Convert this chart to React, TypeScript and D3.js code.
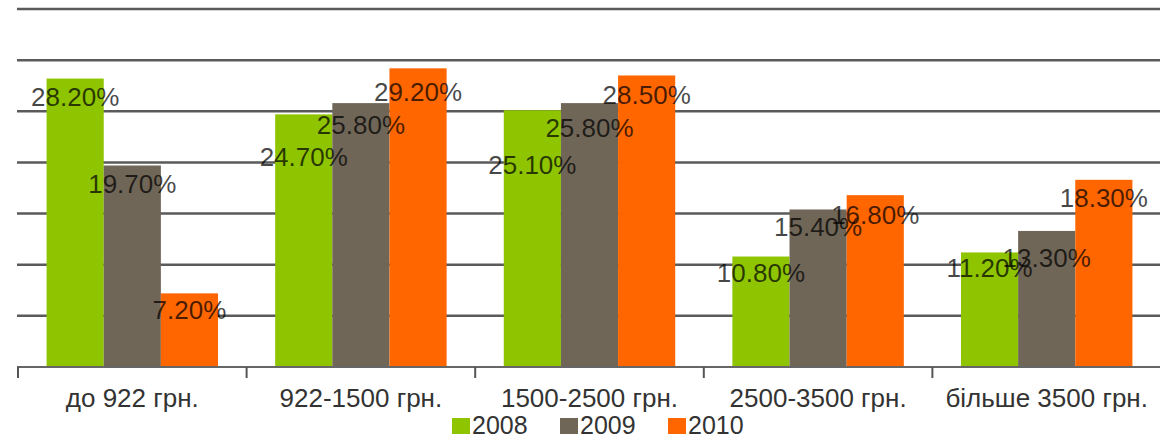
import React from "react";
import * as d3 from "d3";

const categories = ["до 922 грн.", "922-1500 грн.", "1500-2500 грн.", "2500-3500 грн.", "більше 3500 грн."];
const seriesNames = ["2008", "2009", "2010"];
const values2008 = [28.2, 24.7, 25.1, 10.8, 11.2];
const values2009 = [19.7, 25.8, 25.8, 15.4, 13.3];
const values2010 = [7.2, 29.2, 28.5, 16.8, 18.3];
const yTicks = [5, 10, 15, 20, 25, 30, 35];

const seriesValues = [values2008, values2009, values2010];
const colors = ["#8fc400", "#6f6657", "#ff6600"];
// label baseline offsets below bar top (as placed in the original)
const labelDy = [
  [27, 52, 64, 25, 25],
  [28, 31, 34, 27, 36],
  [26, 33, 29, 29, 27],
];

const W = 1160;
const H = 440;

export default function App() {
  const x0 = d3.scaleBand<string>().domain(categories).range([18, 1161]).paddingInner(0).paddingOuter(0);
  const x1 = d3.scaleBand<string>().domain(seriesNames).range([0, x0.bandwidth()]).paddingInner(0).paddingOuter(0.5);
  const y = d3.scaleLinear().domain([0, 35]).range([367, 9]);
  const font = "'Liberation Sans', Arial, sans-serif";
  const boundaries = categories.map((c) => x0(c) as number).concat([x0.range()[1]]);

  return (
    <svg width={W} height={H} style={{ position: "absolute", left: 0, top: 0, background: "#fff" }} fontFamily={font}>
      {yTicks.map((t) => (
        <line key={t} x1={17} x2={W} y1={y(t)} y2={y(t)} stroke="#5a5a5a" strokeWidth={2.5} />
      ))}
      {seriesNames.map((s, si) =>
        categories.map((c, ci) => {
          const v = seriesValues[si][ci];
          const bx = (x0(c) as number) + (x1(s) as number);
          return (
            <rect key={s + c} x={bx} y={y(v)} width={x1.bandwidth()} height={y(0) - y(v)} fill={colors[si]} />
          );
        })
      )}
      <line x1={17} x2={W} y1={y(0)} y2={y(0)} stroke="#666" strokeWidth={2} />
      {boundaries.map((b, i) => (
        <line key={i} x1={b} x2={b} y1={y(0)} y2={y(0) + 11} stroke="#555" strokeWidth={2} />
      ))}
      {seriesNames.map((s, si) =>
        categories.map((c, ci) => {
          const v = seriesValues[si][ci];
          const cx = (x0(c) as number) + (x1(s) as number) + x1.bandwidth() / 2;
          return (
            <text key={"l" + s + c} x={cx} y={y(v) + labelDy[si][ci]} textAnchor="middle" fontSize={26} fill="#000" fillOpacity={0.72}>
              {v.toFixed(2)}%
            </text>
          );
        })
      )}
      {categories.map((c) => {
        const cx = (x0(c) as number) + x0.bandwidth() / 2;
        return (
          <text key={"c" + c} x={cx} y={407} textAnchor="middle" fontSize={26} fill="#333">
            {c}
          </text>
        );
      })}
      {seriesNames.map((s, si) => {
        const lx = 452 + si * 108;
        return (
          <g key={"lg" + s}>
            <rect x={lx} y={418} width={18} height={16} fill={colors[si]} />
            <text x={lx + 20} y={434} fontSize={25} fill="#333">
              {s}
            </text>
          </g>
        );
      })}
    </svg>
  );
}
